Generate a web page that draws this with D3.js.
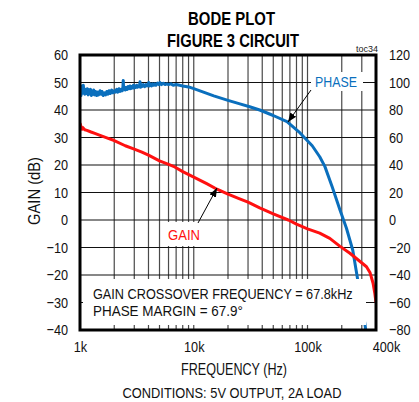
<!DOCTYPE html>
<html>
<head>
<meta charset="utf-8">
<script src="https://cdn.jsdelivr.net/npm/d3@7/dist/d3.min.js"></script>
<style>
  html, body { margin: 0; padding: 0; background: #fff; }
  svg { display: block; }
  text { font-family: "Liberation Sans", Arial, Helvetica, sans-serif; }
</style>
</head>
<body>
<svg id="chart" width="419" height="402"></svg>
<script>
// ---------- DATA ----------
const titleLines = ["BODE PLOT", "FIGURE 3 CIRCUIT"];
const freqTicks = [1, 10, 100, 400];               // kHz
const freqTickLabels = ["1k", "10k", "100k", "400k"];
const gainTicks = [-40, -30, -20, -10, 0, 10, 20, 30, 40, 50, 60];
const phaseTicks = [-80, -60, -40, -20, 0, 20, 40, 60, 80, 100, 120];
const gridFreqs = [2,3,4,5,6,7,8,9,10,20,30,40,50,60,70,80,90,100,200,300];

// Gain (dB) vs frequency (kHz)
const gainFreq = [1.0, 1.02, 1.04, 1.06, 1.1, 1.15, 1.25, 1.35, 1.5, 1.77, 2.0, 2.5, 3.0, 3.5, 4.0, 5.0, 6.0, 6.8, 8, 10, 13, 16, 20, 25, 30, 38, 50, 67.8, 80, 100, 128, 157, 192, 236, 288, 330, 355, 377, 390, 400];
const gainDb   = [35.2, 34.0, 33.0, 33.6, 32.8, 32.6, 32.0, 31.5, 30.8, 29.7, 28.9, 27.0, 25.8, 24.7, 23.6, 21.5, 20.2, 19.3, 17.6, 15.6, 13.2, 11.2, 9.4, 7.8, 6.5, 4.4, 2.2, 0.0, -1.5, -3.2, -4.8, -6.7, -9.5, -12.1, -15.0, -17.0, -19.2, -23.0, -26.5, -30.0];

// Phase (deg) vs frequency (kHz)
const phaseFreq = [1.0, 1.01, 1.02, 1.03, 1.04, 1.05, 1.06, 1.07, 1.08, 1.1, 1.12, 1.14, 1.16, 1.18, 1.2, 1.22, 1.24, 1.26, 1.28, 1.3, 1.32, 1.34, 1.37, 1.4, 1.43, 1.46, 1.5, 1.53, 1.56, 1.6, 1.64, 1.68, 1.72, 1.76, 1.8, 1.85, 1.9, 1.95, 2.0, 2.05, 2.1, 2.15, 2.2, 2.25, 2.3, 2.35, 2.38, 2.4, 2.42, 2.46, 2.5, 2.55, 2.6, 2.65, 2.7, 2.75, 2.8, 2.85, 2.9, 2.95, 3.0, 3.05, 3.1, 3.15, 3.2, 3.27, 3.33, 3.37, 3.4, 3.45, 3.5, 3.6, 3.7, 3.8, 3.9, 3.97, 4.02, 4.07, 4.15, 4.25, 4.35, 4.45, 4.55, 4.65, 4.8, 4.95, 5.05, 5.2, 5.4, 5.6, 5.8, 6.0, 6.3, 6.6, 7.0, 7.5, 8, 9, 10, 12, 15, 20, 25, 31, 38, 50, 66, 86, 110, 128, 142, 165, 193, 220, 250, 277, 300, 320, 335];
const phaseDeg  = [93, 96.5, 90.5, 97.5, 92, 96, 93.5, 98, 94, 91.5, 95, 92, 95.5, 91, 94.5, 92, 95, 90.5, 93.5, 91.5, 94.5, 91, 93.5, 90.5, 93, 91, 94, 91.5, 93.5, 90.5, 92.5, 91, 93.5, 91.5, 94, 92, 94.5, 92.5, 94, 93, 95, 93, 95.5, 93.5, 95, 94, 95.5, 101.5, 95, 96.5, 94.5, 96.5, 95, 97, 95.5, 97.5, 95.5, 97, 96, 98, 96, 97.5, 96.5, 98, 96.5, 97.5, 97, 100.5, 96.5, 98.5, 97, 98.5, 97, 98.5, 97.5, 98, 100, 97.5, 99, 97.5, 99, 98, 99, 98, 99.5, 98.5, 100, 98.5, 99.5, 98.5, 99, 98.5, 99, 98, 98.5, 98, 97.5, 96.8, 95.5, 93.2, 90.3, 87, 84.6, 82.4, 80, 76, 71.5, 63.3, 54, 46, 39, 24, 7.3, -6, -22, -44, -60, -76, -88];

// ---------- LAYOUT ----------
const svg = d3.select("#chart");
const L = 80, R = 376, T = 55, B = 330;
const x = d3.scaleLog().domain([1, 400]).range([L, R]);
const yG = d3.scaleLinear().domain([-40, 60]).range([B, T]);
const yP = d3.scaleLinear().domain([-80, 120]).range([B, T]);

const blue = "#0a6fbd", red = "#ff1010";

// condensed lettering: horizontally scale a text so it renders at width w
function condense(sel, w) {
  const node = sel.node();
  const nat = node.getComputedTextLength();
  const k = w / nat;
  const tx = +sel.attr("x") || 0, ty = +sel.attr("y") || 0;
  const prev = sel.attr("transform") || "";
  sel.attr("x", 0).attr("y", 0)
     .attr("transform", `${prev} translate(${tx},${ty}) scale(${k},1)`);
  return sel;
}
function condenseTicks(sel, k) {
  sel.each(function () {
    const t = d3.select(this);
    const tx = +t.attr("x") || 0;
    t.attr("x", tx / k).attr("transform", `scale(${k},1)`);
  });
}

// clip
const defs = svg.append("defs");
defs.append("clipPath").attr("id", "plotclip")
  .append("rect").attr("x", L).attr("y", T).attr("width", R - L).attr("height", B - T);

// grid: vertical
svg.append("g").selectAll("line").data(gridFreqs).join("line")
  .attr("x1", d => x(d)).attr("x2", d => x(d)).attr("y1", T).attr("y2", B)
  .attr("stroke", "#4a4a4a").attr("stroke-width", 1.2);
// grid: horizontal
svg.append("g").selectAll("line").data(gainTicks).join("line")
  .attr("x1", L).attr("x2", R).attr("y1", d => yG(d)).attr("y2", d => yG(d))
  .attr("stroke", "#111").attr("stroke-width", 1.2);

// white label boxes covering grid
svg.append("rect").attr("x", 311).attr("y", 72).attr("width", 52).attr("height", 19).attr("fill", "#fff");
svg.append("rect").attr("x", 165).attr("y", 222).attr("width", 38).attr("height", 24).attr("fill", "#fff");

// curves
const plot = svg.append("g").attr("clip-path", "url(#plotclip)");
const gainPts = gainFreq.map((f, i) => [f, gainDb[i]]);
const phasePts = phaseFreq.map((f, i) => [f, phaseDeg[i]]);
plot.append("path").datum(phasePts)
  .attr("d", d3.line().x(d => x(d[0])).y(d => yP(d[1])))
  .attr("fill", "none").attr("stroke", blue).attr("stroke-width", 3).attr("stroke-linejoin", "round");
plot.append("path").datum(gainPts)
  .attr("d", d3.line().x(d => x(d[0])).y(d => yG(d[1])))
  .attr("fill", "none").attr("stroke", red).attr("stroke-width", 3).attr("stroke-linejoin", "round");

// annotation box (bottom)
svg.append("rect").attr("x", 83).attr("y", 279).attr("width", 283).attr("height", 46).attr("fill", "#fff");
condense(svg.append("text").attr("x", 93).attr("y", 299).attr("font-size", 15.5).attr("fill", "#111")
  .text("GAIN CROSSOVER FREQUENCY = 67.8kHz"), 260);
condense(svg.append("text").attr("x", 93).attr("y", 315.5).attr("font-size", 15.5).attr("fill", "#111")
  .text("PHASE MARGIN = 67.9°"), 150);

// frame
svg.append("rect").attr("x", L).attr("y", T).attr("width", R - L).attr("height", B - T)
  .attr("fill", "none").attr("stroke", "#000").attr("stroke-width", 3);

// axes
const axL = svg.append("g").attr("transform", `translate(${L},0)`)
  .call(d3.axisLeft(yG).tickValues(gainTicks).tickSize(0).tickPadding(12));
const axR = svg.append("g").attr("transform", `translate(${R},0)`)
  .call(d3.axisRight(yP).tickValues(phaseTicks).tickSize(0).tickPadding(13));
const axB = svg.append("g").attr("transform", `translate(0,${B})`)
  .call(d3.axisBottom(x).tickValues(freqTicks).tickFormat((d, i) => freqTickLabels[i]).tickSize(0).tickPadding(11));
[axL, axR, axB].forEach(a => {
  a.select(".domain").remove();
  a.selectAll("text").attr("font-size", 15.5).attr("fill", "#111")
    .style("font-family", '"Liberation Sans", Arial, sans-serif');
});
axB.selectAll(".tick text").filter(d => d === 400).attr("x", 10);
[axL, axR, axB].forEach(a => condenseTicks(a.selectAll("text"), 0.82));

// labels
condense(svg.append("text").attr("x", 336).attr("y", 87).attr("text-anchor", "middle")
  .attr("font-size", 15).attr("fill", blue).text("PHASE"), 42);
condense(svg.append("text").attr("x", 184).attr("y", 240).attr("text-anchor", "middle")
  .attr("font-size", 15).attr("fill", red).text("GAIN"), 32);

// arrows
defs.append("marker").attr("id", "ah").attr("viewBox", "0 0 10 10").attr("refX", 10).attr("refY", 5)
  .attr("markerWidth", 9).attr("markerHeight", 9).attr("orient", "auto").attr("markerUnits", "userSpaceOnUse")
  .append("path").attr("d", "M0,1 L10,5 L0,9 Z").attr("fill", "#000");
svg.append("line").attr("x1", 311).attr("y1", 90).attr("x2", 288).attr("y2", 122)
  .attr("stroke", "#000").attr("stroke-width", 1).attr("marker-end", "url(#ah)");
svg.append("line").attr("x1", 198).attr("y1", 223).attr("x2", 217).attr("y2", 188)
  .attr("stroke", "#000").attr("stroke-width", 1).attr("marker-end", "url(#ah)");

// titles
condense(svg.append("text").attr("x", 231.5).attr("y", 25).attr("text-anchor", "middle")
  .attr("font-size", 17.5).attr("font-weight", "bold").attr("fill", "#000").text(titleLines[0]), 87);
condense(svg.append("text").attr("x", 233).attr("y", 46.5).attr("text-anchor", "middle")
  .attr("font-size", 17.5).attr("font-weight", "bold").attr("fill", "#000").text(titleLines[1]), 132);
svg.append("text").attr("x", 378).attr("y", 52).attr("text-anchor", "end")
  .attr("font-size", 9).attr("fill", "#222").text("toc34");

// axis titles
const yTitle = svg.append("text").attr("text-anchor", "middle")
  .attr("font-size", 16).attr("fill", "#111").text("GAIN (dB)");
{
  const nat = yTitle.node().getComputedTextLength();
  yTitle.attr("transform", `translate(40,191) rotate(-90) scale(${68 / nat},1)`);
}
condense(svg.append("text").attr("x", 234).attr("y", 375).attr("text-anchor", "middle")
  .attr("font-size", 16).attr("fill", "#111").text("FREQUENCY (Hz)"), 106);
condense(svg.append("text").attr("x", 232).attr("y", 398).attr("text-anchor", "middle")
  .attr("font-size", 15.5).attr("fill", "#111").text("CONDITIONS: 5V OUTPUT, 2A LOAD"), 219);
</script>
</body>
</html>
